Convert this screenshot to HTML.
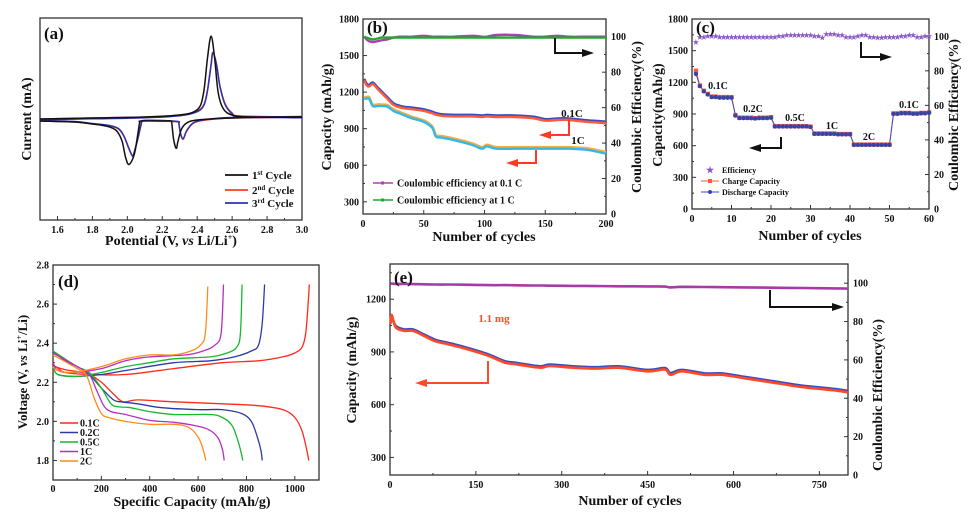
<!DOCTYPE html>
<html><head><meta charset="utf-8"><style>
html,body{margin:0;padding:0;background:#fff;}
svg{display:block;font-family:"Liberation Serif","DejaVu Serif",serif;font-weight:bold;}
svg text{font-family:"Liberation Serif","DejaVu Serif",serif;font-weight:bold;}
</style></head><body>
<svg id="fig" width="978" height="522" viewBox="0 0 978 522" xmlns="http://www.w3.org/2000/svg" font-family="Liberation Serif, DejaVu Serif, serif" font-weight="bold"></svg>
<script>
// ---------- DATA ----------
// (a) CV curves: [V, I(arb)]
const cvBlackAnodic=[[1.5,0.0],[1.8,0.01],[2.1,0.02],[2.3,0.04],[2.38,0.07],[2.42,0.14],[2.44,0.3],[2.46,0.62],[2.48,0.82],[2.5,0.6],[2.52,0.26],[2.55,0.1],[2.6,0.04],[2.7,0.02],[3.0,0.02]];
const cvBlackCathodic=[[3.0,0.02],[2.6,0.01],[2.4,-0.01],[2.34,-0.04],[2.31,-0.1],[2.29,-0.22],[2.28,-0.29],[2.265,-0.2],[2.255,-0.05],[2.25,-0.02],[2.2,-0.02],[2.08,-0.02],[2.07,-0.04],[2.06,-0.15],[2.04,-0.35],[2.01,-0.45],[1.99,-0.38],[1.97,-0.22],[1.94,-0.12],[1.9,-0.08],[1.85,-0.06],[1.8,-0.05],[1.7,-0.03],[1.5,-0.02]];
const cvRedAnodic=[[1.5,0.0],[1.8,0.01],[2.1,0.02],[2.3,0.04],[2.4,0.08],[2.44,0.15],[2.46,0.3],[2.48,0.55],[2.49,0.66],[2.51,0.55],[2.53,0.33],[2.56,0.15],[2.6,0.06],[2.65,0.03],[3.0,0.02]];
const cvRedCathodic=[[3.0,0.02],[2.6,0.01],[2.45,-0.01],[2.38,-0.04],[2.34,-0.12],[2.32,-0.2],[2.305,-0.15],[2.295,-0.05],[2.29,-0.03],[2.2,-0.02],[2.09,-0.02],[2.08,-0.05],[2.06,-0.2],[2.04,-0.33],[2.03,-0.37],[2.01,-0.3],[1.98,-0.17],[1.95,-0.1],[1.9,-0.07],[1.8,-0.05],[1.7,-0.03],[1.5,-0.02]];
// (b)
const bCycles=[1,3,5,8,12,15,20,25,30,35,40,50,57,60,65,75,90,98,102,110,125,140,150,160,170,185,200];
const b01C=[1300,1260,1250,1270,1230,1200,1150,1100,1080,1070,1065,1050,1030,1020,1010,1005,1005,1000,1005,1000,1000,990,970,975,975,960,950];
const b1C=[1150,1150,1150,1090,1090,1090,1085,1050,1030,1010,990,960,910,840,830,810,770,740,760,740,740,740,740,740,740,730,700];
const bCE01=[100,98.5,97.5,97,97.5,98,98.5,99.5,100,100,100,100.5,100,100,100,100,100.5,100,100,101,101,100,100,100.5,100,100,100];
const bCE1=[100,99.5,99,98.5,99,99.5,99.5,99.5,99.5,99.5,99.5,99.5,99.5,99.5,99.5,99.5,99.5,99.5,99.5,99.5,99.5,99.5,99.5,99.5,99.5,99.5,99.5];
// (c)
const cCycles=[1,2,3,4,5,6,7,8,9,10,11,12,13,14,15,16,17,18,19,20,21,22,23,24,25,26,27,28,29,30,31,32,33,34,35,36,37,38,39,40,41,42,43,44,45,46,47,48,49,50,51,52,53,54,55,56,57,58,59,60];
const cCharge=[1310,1170,1120,1090,1065,1065,1060,1060,1060,1060,890,865,865,865,865,860,865,865,865,870,785,785,785,785,785,785,785,785,785,780,715,715,715,715,715,715,710,710,710,710,610,610,610,610,610,610,610,610,610,610,905,905,910,910,910,905,905,910,910,915];
const cDischarge=[1280,1165,1115,1085,1060,1060,1055,1055,1055,1055,885,862,862,862,860,858,862,862,862,865,782,782,782,782,782,782,782,782,782,778,712,712,712,712,712,712,708,708,708,708,608,608,608,608,608,608,608,608,608,608,902,902,907,907,907,903,903,907,907,912];
const cEff=[97,100,100,100.5,100.5,100.5,100,100,100,100,100,100,100,100,100,100,100,100,100,100,100,100.5,100.5,101,101,101,101,101,101,101,100.5,100.5,99.5,101.5,101.5,101.5,101,101,100,100,100,100.5,101,101,100,100,99.5,99.5,100,100,100,100,100.5,100.5,101,101,100,100,100.5,100.5];
// (d) [capacity, voltage]
const d01Dis=[[0,2.30],[10,2.28],[50,2.265],[100,2.255],[150,2.24],[200,2.2],[250,2.14],[290,2.1],[350,2.11],[500,2.1],[700,2.09],[850,2.08],[950,2.06],[1000,2.02],[1030,1.95],[1050,1.85],[1058,1.8]];
const d01Chg=[[0,2.25],[10,2.28],[50,2.25],[150,2.24],[300,2.24],[500,2.27],[700,2.3],[850,2.31],[950,2.33],[1000,2.35],[1030,2.38],[1045,2.45],[1055,2.6],[1060,2.7]];
const d02Dis=[[0,2.36],[50,2.31],[100,2.28],[150,2.24],[200,2.17],[250,2.11],[280,2.1],[350,2.09],[450,2.07],[600,2.06],[700,2.06],[780,2.04],[820,2.0],[845,1.92],[860,1.85],[865,1.8]];
const d02Chg=[[0,2.28],[20,2.24],[100,2.23],[200,2.24],[300,2.26],[500,2.3],[650,2.31],[750,2.33],[820,2.36],[850,2.39],[865,2.5],[875,2.7]];
const d05Dis=[[0,2.36],[100,2.28],[150,2.25],[200,2.17],[240,2.09],[270,2.075],[320,2.07],[400,2.05],[500,2.035],[650,2.035],[700,2.02],[740,1.98],[765,1.9],[780,1.83],[785,1.8]];
const d05Chg=[[0,2.28],[20,2.24],[100,2.23],[200,2.25],[300,2.28],[400,2.3],[500,2.32],[650,2.33],[720,2.35],[760,2.38],[775,2.45],[782,2.7]];
const d1Dis=[[0,2.35],[100,2.28],[150,2.24],[180,2.16],[210,2.08],[240,2.05],[300,2.035],[400,2.005],[500,1.995],[580,1.98],[640,1.96],[680,1.92],[700,1.86],[708,1.8]];
const d1Chg=[[0,2.3],[20,2.26],[80,2.25],[200,2.27],[300,2.31],[400,2.33],[550,2.34],[620,2.36],[670,2.39],[695,2.45],[705,2.7]];
const d2Dis=[[0,2.34],[100,2.27],[140,2.23],[170,2.12],[200,2.04],[230,2.02],[300,2.0],[400,1.985],[500,1.985],[560,1.97],[600,1.92],[620,1.86],[632,1.8]];
const d2Chg=[[0,2.28],[20,2.26],[80,2.25],[200,2.28],[300,2.32],[400,2.34],[500,2.34],[570,2.36],[610,2.39],[630,2.45],[640,2.69]];
// (e)
const eCycles=[1,3,10,25,40,60,80,100,130,170,200,220,250,265,280,320,360,400,450,480,490,510,550,580,620,680,720,780,800];
const eDis=[1060,1110,1040,1020,1020,990,960,945,920,880,840,830,815,810,820,810,805,810,790,800,770,790,770,770,750,720,700,680,670];
const eChg=[1068,1100,1048,1028,1028,998,968,953,928,888,848,838,823,818,828,818,813,818,798,808,780,798,778,778,758,728,708,688,678];
const eCE=[99.8,99.8,99.6,99.6,99.5,99.4,99.3,99.3,99.2,99.0,99.0,98.9,98.8,98.8,98.7,98.6,98.5,98.4,98.3,98.2,97.8,98.1,98.0,97.9,97.8,97.6,97.5,97.3,97.2];

// ---------- HELPERS ----------
const NS="http://www.w3.org/2000/svg";
const svg=document.getElementById('fig');
function mk(tag,attrs,parent,name){
  const e=document.createElementNS(NS,tag);
  for(const k in attrs) e.setAttribute(k,attrs[k]);
  
  
  parent.appendChild(e);return e;
}
function txt(parent,x,y,s,size,anchor,name,rot,color){
  const t=mk('text',{x:x,y:y,'font-size':size,'text-anchor':anchor||'middle',fill:color||'#111','font-family':'Liberation Serif, DejaVu Serif, serif','font-weight':'bold'},parent,name);
  if(rot) t.setAttribute('transform','rotate('+rot+' '+x+' '+y+')');
  t.innerHTML=s;return t;
}
function lin(a,b,p,q){return v=>p+(v-a)/(b-a)*(q-p);}
function smooth(pts){
  let d='M'+pts[0][0].toFixed(1)+','+pts[0][1].toFixed(1);
  for(let i=0;i<pts.length-1;i++){
    const p0=pts[i-1]||pts[i],p1=pts[i],p2=pts[i+1],p3=pts[i+2]||p2;
    const c1=[p1[0]+(p2[0]-p0[0])/6,p1[1]+(p2[1]-p0[1])/6];
    const c2=[p2[0]-(p3[0]-p1[0])/6,p2[1]-(p3[1]-p1[1])/6];
    d+='C'+c1[0].toFixed(1)+','+c1[1].toFixed(1)+' '+c2[0].toFixed(1)+','+c2[1].toFixed(1)+' '+p2[0].toFixed(1)+','+p2[1].toFixed(1);
  }
  return d;
}
function curve(g,pts,sx,sy,color,w,name){
  return mk('path',{d:smooth(pts.map(p=>[sx(p[0]),sy(p[1])])),fill:'none',stroke:color,'stroke-width':w},g,name);
}
function arrow(g,pts,color,name){
  const d='M'+pts.map(p=>p.join(',')).join('L');
  mk('path',{d:d,fill:'none',stroke:color,'stroke-width':2},g,name);
  const a=pts[pts.length-1],b=pts[pts.length-2];const dir=Math.sign(a[0]-b[0]);
  mk('path',{d:'M'+(a[0]+dir*4)+','+a[1]+'L'+(a[0]-dir*8)+','+(a[1]-4)+'L'+(a[0]-dir*8)+','+(a[1]+4)+'Z',fill:color},g,name+'-head');
}
function axes(g,o){
  mk('rect',{x:o.x0,y:o.y0,width:o.x1-o.x0,height:o.y1-o.y0,fill:'none',stroke:'#333','stroke-width':1.3},g,'plot-frame');
  const sx=lin(o.xmin,o.xmax,o.x0,o.x1),sy=lin(o.ymin,o.ymax,o.y1,o.y0);
  o.xt.forEach((v,i)=>{const x=sx(v);
    mk('line',{x1:x,x2:x,y1:o.y1,y2:o.y1-4,stroke:'#333'},g,'x-tick');
    txt(g,x,o.y1+o.xtOff,o.xtl[i],o.fs,'middle','x-tick-label');
    if(o.xminor){const xm=sx(v+o.xminor);if(xm<o.x1) mk('line',{x1:xm,x2:xm,y1:o.y1,y2:o.y1-2,stroke:'#333'},g,'x-minor-tick');}
  });
  if(o.yt) o.yt.forEach((v,i)=>{const y=sy(v);
    mk('line',{x1:o.x0,x2:o.x0+4,y1:y,y2:y,stroke:'#333'},g,'y-tick');
    txt(g,o.x0-4,y+3.5,o.ytl[i],o.fs,'end','y-tick-label');
    if(o.yminor){const ym=sy(v+o.yminor);if(ym>o.y0) mk('line',{x1:o.x0,x2:o.x0+2,y1:ym,y2:ym,stroke:'#333'},g,'y-minor-tick');}
  });
  let sr=null;
  if(o.rt){sr=lin(o.rmin,o.rmax,o.y1,o.y0);
    o.rt.forEach((v,i)=>{const y=sr(v);
      mk('line',{x1:o.x1,x2:o.x1-4,y1:y,y2:y,stroke:'#333'},g,'right-tick');
      txt(g,o.x1+5,y+3.5,o.rtl[i],o.fs,'start','right-tick-label');
      const ym=sr(v+10);if(ym>o.y0) mk('line',{x1:o.x1,x2:o.x1-2,y1:ym,y2:ym,stroke:'#333'},g,'right-minor-tick');
    });}
  return {sx,sy,sr};
}
function g(name){return mk('g',{},svg,name);}

// ---------- PANEL A ----------
(function(){
  const G=g('panel-a');
  const A=axes(G,{x0:40,x1:302,y0:18,y1:220,xmin:1.5,xmax:3.0,ymin:-1,ymax:1,
    xt:[1.6,1.8,2.0,2.2,2.4,2.6,2.8,3.0],xtl:['1.6','1.8','2.0','2.2','2.4','2.6','2.8','3.0'],xminor:0.1,xtOff:13,fs:10});
  const sy=v=>119-v*101;
  curve(G,cvRedAnodic,A.sx,sy,'#ff3b1f',1.5,'cv-2nd-cycle-anodic');
  curve(G,cvRedCathodic,A.sx,sy,'#ff3b1f',1.5,'cv-2nd-cycle-cathodic');
  curve(G,cvRedAnodic,A.sx,v=>sy(v)+0.8,'#2a34b0',1.5,'cv-3rd-cycle-anodic');
  curve(G,cvRedCathodic,A.sx,v=>sy(v)-0.5,'#2a34b0',1.5,'cv-3rd-cycle-cathodic');
  curve(G,cvBlackAnodic,A.sx,sy,'#111',1.5,'cv-1st-cycle-anodic');
  curve(G,cvBlackCathodic,A.sx,sy,'#111',1.5,'cv-1st-cycle-cathodic');
  txt(G,44,39,'(a)',17,'start','panel-label-a');
  txt(G,31,119,'Current (mA)',14,'middle','y-axis-title',-90);
  txt(G,171,245,'Potential (V, <tspan font-style="italic">vs</tspan> Li/Li<tspan font-size="8" dy="-5">+</tspan><tspan dy="5">)</tspan>',14,'middle','x-axis-title');
  const leg=[['#111','1<tspan font-size="7" dy="-4">st</tspan><tspan dy="4"> Cycle</tspan>',175],['#ff3b1f','2<tspan font-size="7" dy="-4">nd</tspan><tspan dy="4"> Cycle</tspan>',190],['#2a34b0','3<tspan font-size="7" dy="-4">rd</tspan><tspan dy="4"> Cycle</tspan>',203]];
  leg.forEach(l=>{mk('line',{x1:225,x2:248,y1:l[2],y2:l[2],stroke:l[0],'stroke-width':1.8},G,'legend-line');txt(G,252,l[2]+4,l[1],11,'start','legend-entry');});
})();

// ---------- PANEL B ----------
(function(){
  const G=g('panel-b');
  const A=axes(G,{x0:363,x1:606,y0:19,y1:214,xmin:0,xmax:200,ymin:200,ymax:1800,
    xt:[0,50,100,150,200],xtl:['0','50','100','150','200'],xminor:25,xtOff:13,fs:10,
    yt:[300,600,900,1200,1500,1800],ytl:['300','600','900','1200','1500','1800'],yminor:150,
    rt:[0,20,40,60,80,100],rtl:['0','20','40','60','80','100'],rmin:0,rmax:110});
  const P=(xs,ys)=>xs.map((c,i)=>[c,ys[i]]);
  curve(G,P(bCycles,b01C),A.sx,v=>A.sy(v)-1,'#3b4cc0',2.6,'capacity-0.1c-discharge');
  curve(G,P(bCycles,b01C),A.sx,v=>A.sy(v)+0.5,'#ff5a3c',2.4,'capacity-0.1c');
  curve(G,P(bCycles,b1C),A.sx,v=>A.sy(v)-1,'#f0b040',2.6,'capacity-1c-charge');
  curve(G,P(bCycles,b1C),A.sx,v=>A.sy(v)+0.5,'#35b8e8',2.4,'capacity-1c');
  curve(G,P(bCycles,bCE01),A.sx,A.sr,'#b23cb5',2.4,'coulombic-efficiency-0.1c');
  curve(G,P(bCycles,bCE1),A.sx,A.sr,'#1fa82a',2.4,'coulombic-efficiency-1c');
  txt(G,367,33,'(b)',17,'start','panel-label-b');
  txt(G,572,117,'0.1C',11,'middle','label-0.1c');
  txt(G,578,144,'1C',11,'middle','label-1c');
  arrow(G,[[569,118],[569,135],[543,135]],'#ff3b1f','arrow-left-0.1c');
  arrow(G,[[536,150],[536,163],[510,163]],'#ff3b1f','arrow-left-1c');
  arrow(G,[[555,38],[555,53],[590,53]],'#111','arrow-right-ce');
  txt(G,331,117,'Capacity (mAh/g)',14,'middle','y-axis-title',-90);
  txt(G,641,117,'Coulombic Efficiency(%)',14,'middle','right-axis-title',-90);
  txt(G,484,241,'Number of cycles',14,'middle','x-axis-title');
  [['#b23cb5','Coulombic efficiency at 0.1 C',183],['#1fa82a','Coulombic efficiency at 1 C',200]].forEach(l=>{
    mk('line',{x1:373,x2:393,y1:l[2],y2:l[2],stroke:l[0],'stroke-width':1.5},G,'legend-line');
    mk('rect',{x:381,y:l[2]-1.5,width:3,height:3,fill:l[0]},G,'legend-marker');
    txt(G,397,l[2]+3.5,l[1],10,'start','legend-entry');});
})();

// ---------- PANEL C ----------
(function(){
  const G=g('panel-c');
  const A=axes(G,{x0:692,x1:929,y0:19,y1:209,xmin:0,xmax:60,ymin:0,ymax:1800,
    xt:[0,10,20,30,40,50,60],xtl:['0','10','20','30','40','50','60'],xminor:5,xtOff:13,fs:10,
    yt:[0,300,600,900,1200,1500,1800],ytl:['0','300','600','900','1200','1500','1800'],yminor:150,
    rt:[0,20,40,60,80,100],rtl:['0','20','40','60','80','100'],rmin:0,rmax:110});
  mk('path',{d:'M'+cCycles.map((c,i)=>A.sx(c).toFixed(1)+','+A.sy(cCharge[i]).toFixed(1)).join('L'),fill:'none',stroke:'#ff5a3c','stroke-width':1},G,'charge-capacity-line');
  mk('path',{d:'M'+cCycles.map((c,i)=>A.sx(c).toFixed(1)+','+A.sy(cDischarge[i]).toFixed(1)).join('L'),fill:'none',stroke:'#3b4cc0','stroke-width':1},G,'discharge-capacity-line');
  cCycles.forEach((c,i)=>{
    mk('rect',{x:A.sx(c)-2.2,y:A.sy(cCharge[i])-2.2,width:4.4,height:4.4,fill:'#ff5a3c'},G,'charge-point');
    mk('circle',{cx:A.sx(c),cy:A.sy(cDischarge[i]),r:2.2,fill:'#3344aa'},G,'discharge-point');
    txt(G,A.sx(c),A.sr(cEff[i])+3,'★',7,'middle','efficiency-point',0,'#8a5ac8');
  });
  txt(G,696,33,'(c)',17,'start','panel-label-c');
  [['0.1C',718,89],['0.2C',753,112],['0.5C',795,121],['1C',832,129],['2C',869,140],['0.1C',909,108]].forEach(l=>txt(G,l[1],l[2],l[0],10,'middle','rate-label'));
  arrow(G,[[781,137],[781,148],[753,148]],'#111','arrow-left-capacity');
  arrow(G,[[861,42],[861,57],[888,57]],'#111','arrow-right-efficiency');
  txt(G,662,115,'Capacity(mAh/g)',14,'middle','y-axis-title',-90);
  txt(G,958,115,'Coulombic Efficiency(%)',14,'middle','right-axis-title',-90);
  txt(G,810,240,'Number of cycles',14,'middle','x-axis-title');
  txt(G,710,173,'★',9,'middle','legend-star',0,'#8a5ac8');
  txt(G,722,173,'Efficiency',8,'start','legend-entry');
  mk('line',{x1:701,x2:719,y1:181,y2:181,stroke:'#ff5a3c'},G,'legend-line');
  mk('rect',{x:708,y:179,width:4,height:4,fill:'#ff5a3c'},G,'legend-marker');
  txt(G,722,184,'Charge Capacity',8,'start','legend-entry');
  mk('line',{x1:701,x2:719,y1:192,y2:192,stroke:'#3b4cc0'},G,'legend-line');
  mk('circle',{cx:710,cy:192,r:2,fill:'#3344aa'},G,'legend-marker');
  txt(G,722,195,'Discharge Capacity',8,'start','legend-entry');
})();

// ---------- PANEL D ----------
(function(){
  const G=g('panel-d');
  const A=axes(G,{x0:53,x1:319,y0:265,y1:480,xmin:0,xmax:1100,ymin:1.7,ymax:2.8,
    xt:[0,200,400,600,800,1000],xtl:['0','200','400','600','800','1000'],xminor:100,xtOff:12,fs:10,
    yt:[1.8,2.0,2.2,2.4,2.6,2.8],ytl:['1.8','2.0','2.2','2.4','2.6','2.8'],yminor:0.1});
  const S=[['0.1C','#ff2a1a',d01Dis,d01Chg],['0.2C','#2b3aa8',d02Dis,d02Chg],['0.5C','#17b82c',d05Dis,d05Chg],['1C','#b52fc0',d1Dis,d1Chg],['2C','#ff8c1a',d2Dis,d2Chg]];
  S.forEach((s,i)=>{
    curve(G,s[2],A.sx,A.sy,s[1],1.3,'discharge-curve-'+s[0]);
    curve(G,s[3],A.sx,A.sy,s[1],1.3,'charge-curve-'+s[0]);
    const y=423+i*9.5;
    mk('line',{x1:60,x2:78,y1:y,y2:y,stroke:s[1],'stroke-width':1.5},G,'legend-line');
    txt(G,80,y+3.5,s[0],10,'start','legend-entry');
  });
  txt(G,58,287,'(d)',17,'start','panel-label-d');
  txt(G,27,372,'Voltage (V, <tspan font-style="italic">vs</tspan> Li<tspan font-size="8" dy="-5">+</tspan><tspan dy="5">/Li)</tspan>',13,'middle','y-axis-title',-90);
  txt(G,192,506,'Specific Capacity (mAh/g)',14,'middle','x-axis-title');
})();

// ---------- PANEL E ----------
(function(){
  const G=g('panel-e');
  const A=axes(G,{x0:390,x1:848,y0:264,y1:475,xmin:0,xmax:800,ymin:200,ymax:1400,
    xt:[0,150,300,450,600,750],xtl:['0','150','300','450','600','750'],xminor:75,xtOff:13,fs:10,
    yt:[300,600,900,1200],ytl:['300','600','900','1200'],yminor:150,
    rt:[0,20,40,60,80,100],rtl:['0','20','40','60','80','100'],rmin:0,rmax:110});
  const P=(xs,ys)=>xs.map((c,i)=>[c,ys[i]]);
  curve(G,P(eCycles,eChg),A.sx,A.sy,'#3b4cc0',2.6,'capacity-charge');
  curve(G,P(eCycles,eDis),A.sx,A.sy,'#ff4a2a',2.6,'capacity-discharge');
  curve(G,P(eCycles,eCE),A.sx,A.sr,'#a83aa8',2.6,'coulombic-efficiency');
  txt(G,394,283,'(e)',17,'start','panel-label-e');
  txt(G,494,322,'1.1 mg',11,'middle','mass-label',0,'#ff4a2a');
  arrow(G,[[488,361],[488,383],[419,383]],'#ff4a2a','arrow-left-capacity');
  arrow(G,[[770,290],[770,307],[840,307]],'#111','arrow-right-efficiency');
  txt(G,356,370,'Capacity (mAh/g)',14,'middle','y-axis-title',-90);
  txt(G,882,395,'Coulombic Efficiency(%)',14,'middle','right-axis-title',-90);
  txt(G,630,505,'Number of cycles',14,'middle','x-axis-title');
})();
</script>
</body></html>
